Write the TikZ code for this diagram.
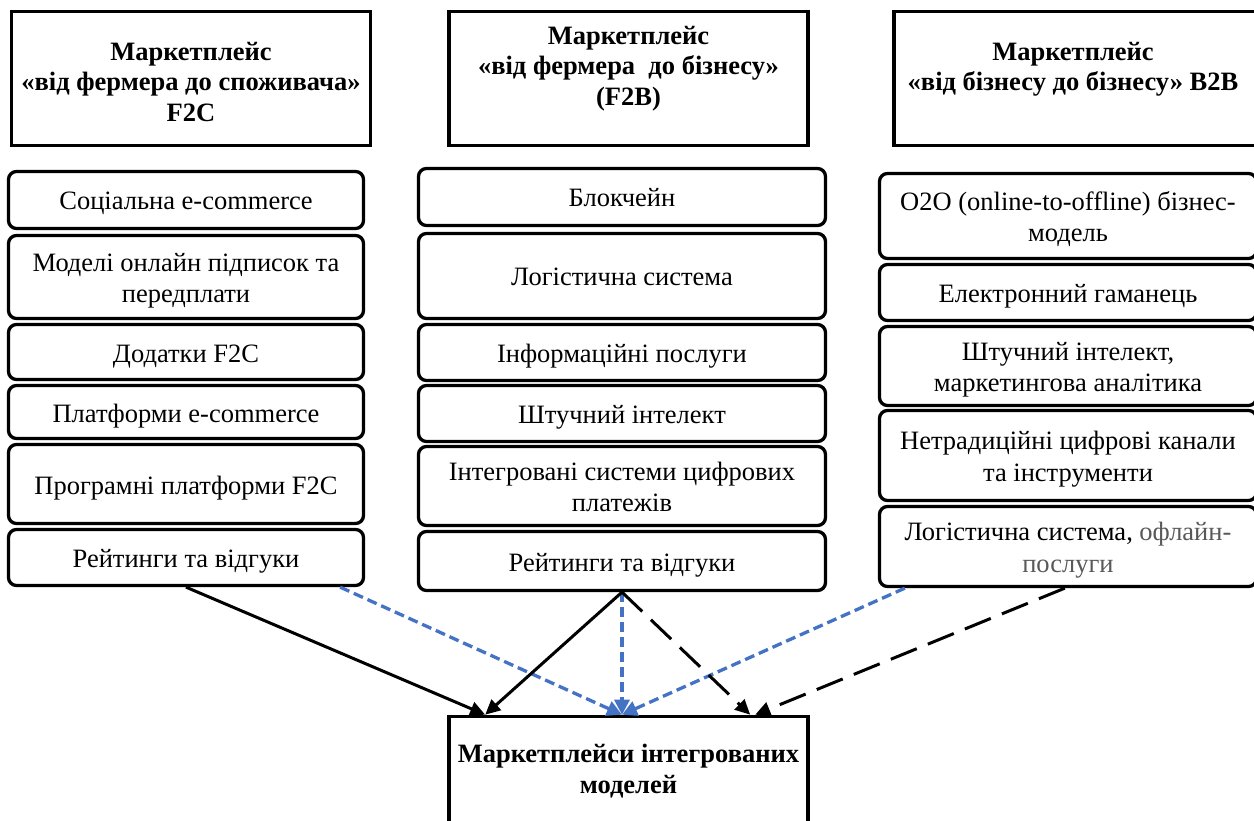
\documentclass[tikz,border=0pt]{standalone}
\usepackage{fontspec}
\setmainfont{Liberation Serif}
\usetikzlibrary{arrows.meta,calc}
\definecolor{wblue}{RGB}{68,114,196}
\definecolor{wgray}{RGB}{89,89,89}
\newcommand\mytop{\rule{0pt}{27pt}}
\newcommand\mybot{\rule[-7pt]{0pt}{7pt}}
\tikzset{
  hdr/.style={draw, line width=3.6pt, minimum width=359pt, minimum height=134pt, inner sep=0pt},
  htxt/.style={font=\bfseries\fontsize{26.5}{30.5}\selectfont, align=center, inner sep=0pt, anchor=north},
  item/.style={draw, line width=3.3pt, rounded corners=8pt, align=center, inner sep=0pt,
    font=\fontsize{26.5}{31.5}\selectfont},
  colA/.style={item, minimum width=355pt},
  colB/.style={item, minimum width=407pt},
  colC/.style={item, minimum width=377pt},
  solidarr/.style={line width=3pt, -{Triangle[length=15pt,width=14pt]}},
  dasharr/.style={line width=3pt, dash pattern=on 28pt off 12pt, -{Triangle[length=15pt,width=14pt]}},
  bluearr/.style={line width=3.3pt, wblue, dash pattern=on 10pt off 5pt, -{Triangle[length=15pt,width=15pt]}},
}
\begin{document}
\begin{tikzpicture}[x=1pt,y=-1pt]
\useasboundingbox (0,0) rectangle (1254,821);
\clip (0,0) rectangle (1254,821);
\fill[white] (0,0) rectangle (1254,821);

% headers
\node[hdr] (h1) at (191,78.5) {};
\node[htxt] (h1t) at (191,42) {Маркетплейс\\«від фермера до споживача»\\F2C};
\node[hdr] (h2) at (628.5,78.5) {};
\node[htxt] (h2t) at (628.5,26) {Маркетплейс\\«від фермера\ \ до бізнесу»\\(F2B)};
\node[hdr, minimum width=364pt] (h3) at (1076,78.5) {};
\node[htxt] (h3t) at (1073,42) {Маркетплейс\\«від бізнесу до бізнесу» B2B};

% left column
\node[colA, minimum height=57pt] (a1) at (186,200) {\mytop\mybot Соціальна e-commerce};
\node[colA, minimum height=83pt] (a2) at (186,277) {\mytop Моделі онлайн підписок та\\\mybot передплати};
\node[colA, minimum height=55pt] (a3) at (186,352) {\mytop\mybot Додатки F2C};
\node[colA, minimum height=53pt] (a4) at (186,412) {\mytop\mybot Платформи e-commerce};
\node[colA, minimum height=79pt] (a5) at (186,484) {\mytop\mybot Програмні платформи F2C};
\node[colA, minimum height=56pt] (a6) at (186,557.5) {\mytop\mybot Рейтинги та відгуки};

% middle column
\node[colB, minimum height=57pt] (b1) at (622,197) {\mytop\mybot Блокчейн};
\node[colB, minimum height=85pt] (b2) at (622,276) {\mytop\mybot Логістична система};
\node[colB, minimum height=56pt] (b3) at (622,352.5) {\mytop\mybot Інформаційні послуги};
\node[colB, minimum height=56pt] (b4) at (622,413.5) {\mytop\mybot Штучний інтелект};
\node[colB, minimum height=79pt] (b5) at (622,486) {\mytop Інтегровані системи цифрових\\\mybot платежів};
\node[colB, minimum height=59pt] (b6) at (622,561) {\mytop\mybot Рейтинги та відгуки};

% right column
\node[colC, minimum height=85pt] (c1) at (1068,216) {\mytop O2O (online-to-offline) бізнес-\\\mybot модель};
\node[colC, minimum height=56pt] (c2) at (1068,292.5) {\mytop\mybot Електронний гаманець};
\node[colC, minimum height=79pt] (c3) at (1068,366) {\mytop Штучний інтелект,\\\mybot маркетингова аналітика};
\node[colC, minimum height=90pt] (c4) at (1068,455.5) {\mytop Нетрадиційні цифрові канали\\\mybot та інструменти};
\node[colC, minimum height=80pt] (c5) at (1068,546.5) {\mytop Логістична система, \textcolor{wgray}{офлайн-}\\\mybot\textcolor{wgray}{послуги}};

% bottom
\node[hdr, minimum height=113.5pt] (out) at (628.5,773.25) {};
\node[htxt] (outt) at (628.5,744) {Маркетплейси інтегрованих\\моделей};

\coordinate (bt) at (b6.south |- out.north);

% connectors
\draw[bluearr] ($(a6.south east)+(-25,0)$) -- (bt);
\draw[bluearr] ($(c5.south west)+(27,0)$) -- (bt);
\draw[bluearr] (b6.south) -- (bt);
\draw[solidarr] (a6.south) -- ($(out.north west)+(38,0)$);
\draw[solidarr] (b6.south) -- ($(out.north west)+(38,0)$);
\draw[dasharr] (b6.south) -- ($(out.north west)+(303,0)$);
\draw[dasharr] ($(c5.south west)+(187,0)$) -- ($(out.north west)+(308,0)$);
\end{tikzpicture}
\end{document}
